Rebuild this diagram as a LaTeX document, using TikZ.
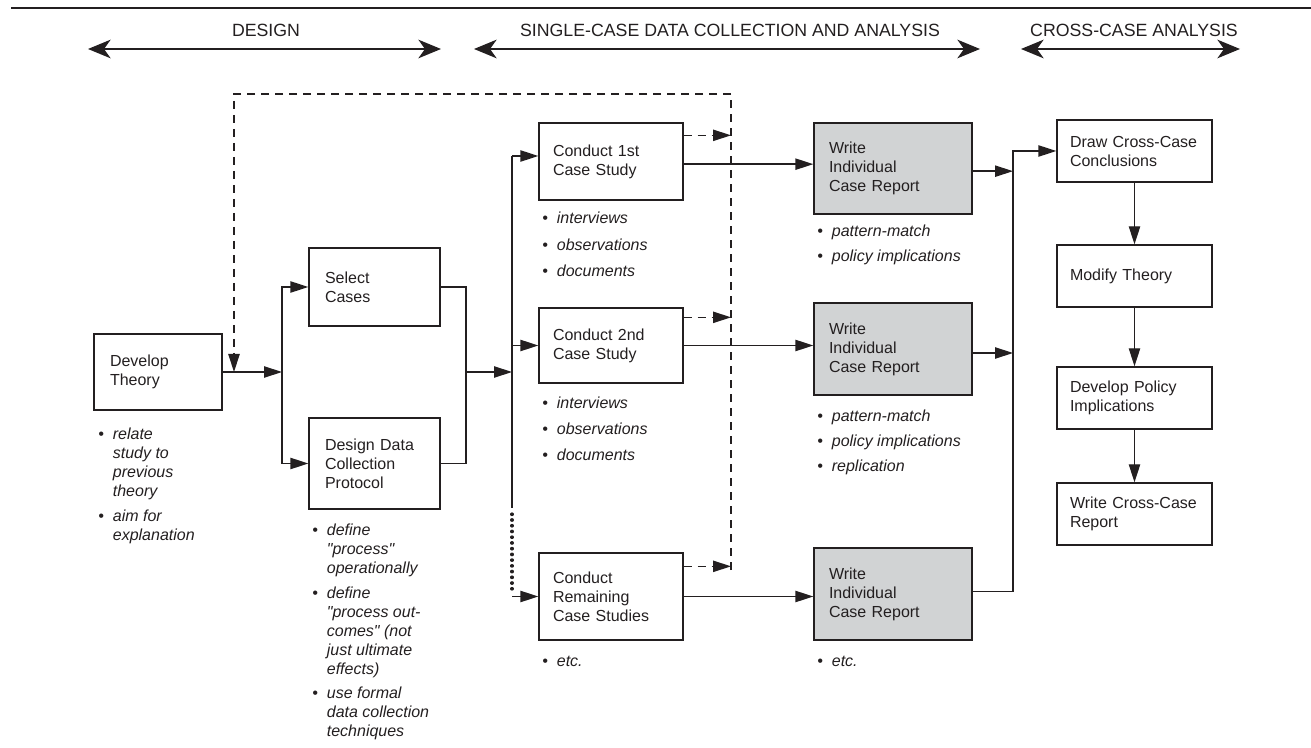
\documentclass[tikz,border=0pt]{standalone}
\usepackage{fontspec}
\setmainfont{Liberation Sans}
\usetikzlibrary{arrows.meta,calc}
\definecolor{ink}{HTML}{231F20}
\definecolor{boxgray}{HTML}{D1D3D4}
\begin{document}
\begin{tikzpicture}[x=0.75pt,y=-0.75pt,
  box/.style={draw=ink, line width=1pt, inner xsep=0pt, inner ysep=0pt, align=left, text=ink, font=\fontsize{12}{14.25}\selectfont},
  gbox/.style={box, fill=boxgray},
  ln/.style={draw=ink, line width=1pt},
  tip/.style={-{Triangle[length=13.5pt,width=8.5pt]}},
  arr/.style={ln, tip},
  dsh/.style={ln, dash pattern=on 6pt off 4.5pt},
  dotln/.style={draw=ink, line width=2.4pt, line cap=round, dash pattern=on 0.4pt off 3.9pt},
  hdr/.style={font=\fontsize{13.3}{16}\selectfont, text=ink, inner sep=0pt},
  harr/.style={draw=ink, line width=1.2pt, {Stealth[length=17pt,width=14pt,inset=5pt]}-{Stealth[length=17pt,width=14pt,inset=5pt]}},
  blist/.style={anchor=base west, inner sep=0pt, text=ink, font=\itshape\fontsize{12}{14.25}\selectfont}
]
\useasboundingbox (0,0) rectangle (1311,748);

% top rule and header
\coordinate (r1) at (11,8);
\coordinate (r2) at (1311,8);
\draw[ink, line width=2pt] (r1) -- (r2);

\node[hdr] (hD) at (266,30) {DESIGN};
\node[hdr] (hS) at (730,30) {SINGLE-CASE DATA COLLECTION AND ANALYSIS};
\node[hdr] (hC) at (1134,30) {CROSS-CASE ANALYSIS};
\coordinate (h1a) at (88,49);  \coordinate (h1b) at (441,49);
\coordinate (h2a) at (474,49); \coordinate (h2b) at (980,49);
\coordinate (h3a) at (1021,49); \coordinate (h3b) at (1240,49);
\draw[harr] (h1a) -- (h1b);
\draw[harr] (h2a) -- (h2b);
\draw[harr] (h3a) -- (h3b);

% boxes
\node[box, minimum width=96pt, minimum height=57pt, text width=72pt] (dt) at (158,372) {Develop\\Theory};
\node[box, minimum width=98.25pt, minimum height=58.5pt, text width=74.25pt] (sc) at (374.5,287) {Select\\Cases};
\node[box, minimum width=98.25pt, minimum height=68.25pt, text width=74.25pt] (dd) at (374.5,463.5) {Design Data\\Collection\\Protocol};

\node[box, minimum width=108pt, minimum height=57.75pt, text width=87pt] (c1) at (611,161.5) {Conduct 1st\\Case Study};
\node[box, minimum width=108pt, minimum height=56.25pt, text width=87pt] (c2) at (611,345.5) {Conduct 2nd\\Case Study};
\node[box, minimum width=108pt, minimum height=65.25pt, text width=87pt] (cr) at (611,596.5) {Conduct\\Remaining\\Case Studies};

\node[gbox, minimum width=118.5pt, minimum height=68.25pt, text width=96pt] (w1) at (893,168.5) {Write\\Individual\\Case Report};
\node[gbox, minimum width=118.5pt, minimum height=69pt, text width=96pt] (w2) at (893,349) {Write\\Individual\\Case Report};
\node[gbox, minimum width=118.5pt, minimum height=69pt, text width=96pt] (w3) at (893,594) {Write\\Individual\\Case Report};

\node[box, minimum width=116.25pt, minimum height=46.5pt, text width=96.75pt] (dc) at (1134.5,151) {\mbox{Draw Cross-Case}\\Conclusions};
\node[box, minimum width=116.25pt, minimum height=46.5pt, text width=96.75pt] (mt) at (1134.5,276) {Modify Theory};
\node[box, minimum width=116.25pt, minimum height=46.5pt, text width=96.75pt] (dp) at (1134.5,398) {\mbox{Develop Policy}\\Implications};
\node[box, minimum width=116.25pt, minimum height=46.5pt, text width=96.75pt] (wc) at (1134.5,514) {\mbox{Write Cross-Case}\\Report};

% bullet lists
\node[blist] (dtL) at (98,440) {\begin{tabular}[t]{@{}l@{\hspace{6.75pt}}l@{}}\textbullet & relate\\ & study to\\ & previous\\ & theory\\[4.5pt] \textbullet & aim for\\ & explanation\end{tabular}};
\node[blist] (ddL) at (312,536) {\begin{tabular}[t]{@{}l@{\hspace{6.75pt}}l@{}}\textbullet & define\\ & \textquotedbl process\textquotedbl\\ & operationally\\[4.5pt] \textbullet & define\\ & \textquotedbl process out-\\ & comes\textquotedbl{} (not\\ & just ultimate\\ & effects)\\[3.5pt] \textbullet & use formal\\ & data collection\\ & techniques\end{tabular}};
\node[blist] (c1L) at (542,224) {\begin{tabular}[t]{@{}l@{\hspace{6.75pt}}l@{}}\textbullet & interviews\\[5.5pt] \textbullet & observations\\[5.5pt] \textbullet & documents\end{tabular}};
\node[blist] (c2L) at (542,409) {\begin{tabular}[t]{@{}l@{\hspace{6.75pt}}l@{}}\textbullet & interviews\\[5pt] \textbullet & observations\\[5pt] \textbullet & documents\end{tabular}};
\node[blist] (crL) at (542,666) {\begin{tabular}[t]{@{}l@{\hspace{6.75pt}}l@{}}\textbullet & etc.\end{tabular}};
\node[blist] (w1L) at (817,237) {\begin{tabular}[t]{@{}l@{\hspace{6.75pt}}l@{}}\textbullet & pattern-match\\[4pt] \textbullet & policy implications\end{tabular}};
\node[blist] (w2L) at (817,422) {\begin{tabular}[t]{@{}l@{\hspace{6.75pt}}l@{}}\textbullet & pattern-match\\[4.5pt] \textbullet & policy implications\\[4.5pt] \textbullet & replication\end{tabular}};
\node[blist] (w3L) at (817,666) {\begin{tabular}[t]{@{}l@{\hspace{6.75pt}}l@{}}\textbullet & etc.\end{tabular}};

% design-stage connectors
\coordinate (b1) at (282,372);
\draw[arr] (dt.east) -- (b1);
\draw[arr] (b1) |- (sc.west);
\draw[arr] (b1) |- (dd.west);
\coordinate (b2) at (466,372);
\draw[ln] (sc.east) -| (b2) |- (dd.east);
\coordinate (b3) at (512,372);
\draw[arr] (b2) -- (b3);

% case-study bus
\coordinate (b3t) at (512,156);
\coordinate (b3d) at (512,508);
\coordinate (b3e) at (512,514);
\coordinate (b3f) at (512,590);
\draw[ln] (b3t) -- (b3d);
\draw[dotln] (b3e) -- (b3f);
\draw[arr] (b3t) -- (b3t -| c1.west);
\draw[arr] (b3t |- c2.west) -- (c2.west);
\draw[arr] (b3t |- cr.west) -- (cr.west);

% dashed feedback loop
\coordinate (dA) at (234,94);
\coordinate (dB) at (731,94);
\coordinate (dC) at (731,570);
\draw[dsh, tip] (dC) -- (dB) -- (dA) -- (dA |- dt.east);
\draw[dsh, tip] ($(c1.north east)+(0,13)$) coordinate (e1) -- (e1 -| dB);
\draw[dsh, tip] ($(c2.north east)+(0,10)$) coordinate (e2) -- (e2 -| dB);
\draw[dsh, tip] ($(cr.north east)+(0,14)$) coordinate (e3) -- (e3 -| dB);

% case study -> report
\draw[arr] ([yshift=-2pt]c1.east) -- ([yshift=-2pt]c1.east -| w1.west);
\draw[arr] (c2.east) -- (c2.east -| w2.west);
\draw[arr] (cr.east) -- (cr.east -| w3.west);

% reports -> cross-case
\coordinate (b4) at (1013,151);
\draw[arr] ([yshift=-2pt]w1.east) -- ([yshift=-2pt]w1.east -| b4);
\draw[arr] ([yshift=-3pt]w2.east) -- ([yshift=-3pt]w2.east -| b4);
\draw[arr] ([yshift=2pt]w3.east) -| (b4) -- (dc.west);

\draw[arr] (dc) -- (mt);
\draw[arr] (mt) -- (dp);
\draw[arr] (dp) -- (wc);
\end{tikzpicture}
\end{document}
